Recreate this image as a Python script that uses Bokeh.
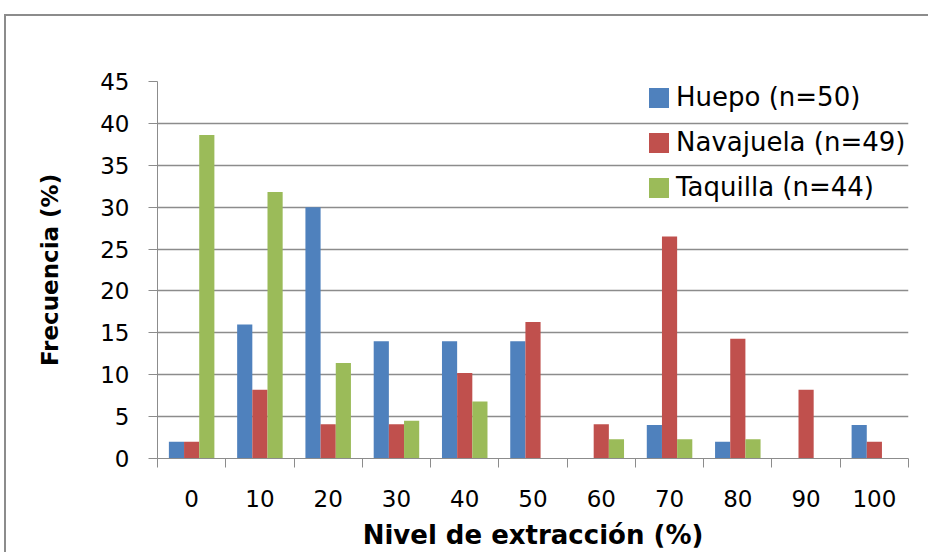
from bokeh.plotting import figure
from bokeh.models import (ColumnDataSource, FixedTicker, Legend, LegendItem, Range1d)
from bokeh.transform import dodge
from bokeh.embed import file_html
from bokeh.resources import INLINE

# ---- data ----
categories = [0, 10, 20, 30, 40, 50, 60, 70, 80, 90, 100]
huepo = [2.0, 16.0, 30.0, 14.0, 14.0, 14.0, 0.0, 4.0, 2.0, 0.0, 4.0]
navajuela = [2.0, 8.2, 4.1, 4.1, 10.2, 16.3, 4.1, 26.5, 14.3, 8.2, 2.0]
taquilla = [38.6, 31.8, 11.4, 4.5, 6.8, 0.0, 2.3, 2.3, 2.3, 0.0, 0.0]
series_names = ["Huepo (n=50)", "Navajuela (n=49)", "Taquilla (n=44)"]
series_colors = ["#4F81BD", "#C0504D", "#9BBB59"]
y_ticks = [0, 5, 10, 15, 20, 25, 30, 35, 40, 45]

step = categories[1] - categories[0]
bar_w = step / 4.5
boundaries = [c - step / 2 for c in categories] + [categories[-1] + step / 2]

source = ColumnDataSource(dict(cat=categories, h=huepo, n=navajuela, t=taquilla))

FONT = "DejaVu Sans"
GRID = "#8c8c8c"

# outer chart-area border drawn as CSS lines behind a transparent canvas
border_css = {
    "background-color": "white",
    "background-image": f"linear-gradient({GRID}, {GRID}), linear-gradient({GRID}, {GRID})",
    "background-size": "100% 2px, 2px 100%",
    "background-position": "5px 14px, 4px 14px",
    "background-repeat": "no-repeat",
}

p = figure(width=928, height=552, output_backend="svg", toolbar_location=None,
           x_range=Range1d(boundaries[0], boundaries[-1]),
           y_range=Range1d(0, 45),
           min_border_left=157, min_border_top=81, min_border_right=20,
           min_border_bottom=93, styles=border_css)
p.outline_line_color = None
p.background_fill_color = "white"
p.border_fill_color = None

renderers = []
for key, off, col in zip(["h", "n", "t"], [-bar_w, 0, bar_w], series_colors):
    r = p.vbar(x=dodge("cat", off), top=key, width=bar_w, source=source,
               fill_color=col, line_color=None)
    renderers.append(r)

# axes
p.xaxis.ticker = FixedTicker(ticks=categories, minor_ticks=boundaries)
p.xaxis.major_tick_out = 0
p.xaxis.major_tick_in = 0
p.xaxis.minor_tick_out = 9
p.xaxis.minor_tick_in = 0
p.xaxis.minor_tick_line_color = GRID
p.xaxis.axis_line_color = GRID
p.xaxis.major_label_text_font = FONT
p.xaxis.major_label_text_font_size = "23px"
p.xaxis.major_label_text_color = "black"
p.xaxis.major_label_standoff = 22
p.xaxis.axis_label = "Nivel de extracción (%)"
p.xaxis.axis_label_text_font = FONT
p.xaxis.axis_label_text_font_size = "26px"
p.xaxis.axis_label_text_font_style = "bold"
p.xaxis.axis_label_text_color = "black"
p.xaxis.axis_label_standoff = 10

p.yaxis.ticker = FixedTicker(ticks=y_ticks)
p.yaxis.major_tick_out = 9
p.yaxis.major_tick_in = 0
p.yaxis.minor_tick_out = 0
p.yaxis.major_tick_line_color = GRID
p.yaxis.axis_line_color = GRID
p.yaxis.major_label_text_font = FONT
p.yaxis.major_label_text_font_size = "23px"
p.yaxis.major_label_text_color = "black"
p.yaxis.major_label_standoff = 19
p.yaxis.axis_label = "Frecuencia (%)"
p.yaxis.axis_label_text_font = FONT
p.yaxis.axis_label_text_font_size = "23px"
p.yaxis.axis_label_text_font_style = "bold"
p.yaxis.axis_label_text_color = "black"
p.yaxis.axis_label_standoff = 34

p.xgrid.grid_line_color = None
p.ygrid.ticker = FixedTicker(ticks=y_ticks)
p.ygrid.grid_line_color = GRID
p.ygrid.grid_line_width = 1.5

# legend
legend = Legend(items=[LegendItem(label=n, renderers=[r])
                       for n, r in zip(series_names, renderers)],
                location=(489, 256))
legend.padding = 0
legend.margin = 0
legend.spacing = 15
legend.glyph_width = 25
legend.glyph_height = 25
legend.label_standoff = 5
legend.label_text_font = FONT
legend.label_text_font_size = "26px"
legend.label_text_color = "black"
legend.border_line_color = None
legend.background_fill_alpha = 0
p.add_layout(legend, "center")

open("out.html", "w").write(file_html(p, INLINE))
